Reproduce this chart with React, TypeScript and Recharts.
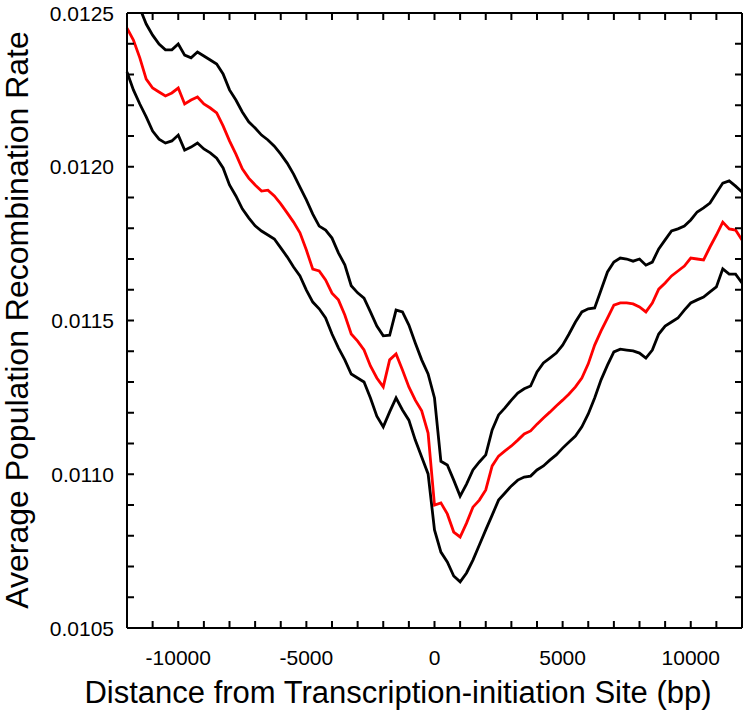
import { LineChart, Line, XAxis, YAxis, Label } from "recharts";

const positions = [
  -12000, -11750, -11500, -11250, -11000, -10750, -10500, -10250, -10000, -9750, -9500, -9250,
  -9000, -8750, -8500, -8250, -8000, -7750, -7500, -7250, -7000, -6750, -6500, -6250,
  -6000, -5750, -5500, -5250, -5000, -4750, -4500, -4250, -4000, -3750, -3500, -3250,
  -3000, -2750, -2500, -2250, -2000, -1750, -1500, -1250, -1000, -750, -500, -250,
  0, 250, 500, 750, 1000, 1250, 1500, 1750, 2000, 2250, 2500, 2750,
  3000, 3250, 3500, 3750, 4000, 4250, 4500, 4750, 5000, 5250, 5500, 5750,
  6000, 6250, 6500, 6750, 7000, 7250, 7500, 7750, 8000, 8250, 8500, 8750,
  9000, 9250, 9500, 9750, 10000, 10250, 10500, 10750, 11000, 11250, 11500, 11750, 12000,
];

// mean rate (red)
const meanRate = [
  0.012451, 0.012412, 0.012354, 0.012285, 0.012256, 0.012243, 0.01223, 0.01224, 0.012256, 0.012204, 0.012217, 0.012227,
  0.012204, 0.012191, 0.012175, 0.012133, 0.012084, 0.012041, 0.011993, 0.011963, 0.011941, 0.011921, 0.011924, 0.011905,
  0.011879, 0.01185, 0.01182, 0.011785, 0.011729, 0.011667, 0.011661, 0.011632, 0.011589, 0.011567, 0.011518, 0.011456,
  0.011433, 0.011404, 0.011352, 0.011313, 0.011284, 0.011372, 0.011391, 0.011339, 0.011284, 0.011241, 0.011206, 0.011134,
  0.0109, 0.010907, 0.010871, 0.010812, 0.010796, 0.010841, 0.010893, 0.010916, 0.010949, 0.011027, 0.011059, 0.011076,
  0.011092, 0.011111, 0.011131, 0.011141, 0.011163, 0.011183, 0.011202, 0.011222, 0.011241, 0.011261, 0.011284, 0.011313,
  0.011359, 0.01142, 0.011466, 0.011508, 0.01155, 0.011557, 0.011557, 0.011554, 0.011544, 0.011528, 0.011557, 0.011602,
  0.011622, 0.011645, 0.011661, 0.011677, 0.011703, 0.0117, 0.011697, 0.011739, 0.011778, 0.01182, 0.011798, 0.011794, 0.011762,
];

// upper bound (black)
const upperRate = [
  0.01258, 0.012542, 0.012516, 0.012464, 0.012428, 0.012399, 0.01238, 0.01238, 0.012399, 0.012363, 0.012354, 0.012373,
  0.01236, 0.012347, 0.012334, 0.012302, 0.01225, 0.012217, 0.012178, 0.012146, 0.012126, 0.012103, 0.012087, 0.012067,
  0.012041, 0.012012, 0.011976, 0.011934, 0.011892, 0.011846, 0.011807, 0.011794, 0.011768, 0.01172, 0.011681, 0.011613,
  0.01159, 0.011573, 0.011528, 0.011482, 0.01145, 0.011452, 0.011534, 0.011528, 0.011485, 0.011427, 0.011372, 0.011326,
  0.011248, 0.011042, 0.01103, 0.010981, 0.010929, 0.010968, 0.011014, 0.01104, 0.011063, 0.011144, 0.011193, 0.011216,
  0.011241, 0.011264, 0.011278, 0.011287, 0.011333, 0.011362, 0.011378, 0.011394, 0.01142, 0.011456, 0.011495, 0.011528,
  0.011538, 0.011541, 0.011599, 0.011658, 0.01169, 0.011703, 0.0117, 0.011693, 0.0117, 0.01168, 0.01169, 0.011733,
  0.011762, 0.011791, 0.011798, 0.011807, 0.011827, 0.011853, 0.011866, 0.011882, 0.011915, 0.011947, 0.011954, 0.011937, 0.011918,
];

// lower bound (black)
const lowerRate = [
  0.012308, 0.01225, 0.012204, 0.012162, 0.012116, 0.01209, 0.012077, 0.012084, 0.012103, 0.012054, 0.012064, 0.012077,
  0.012058, 0.012045, 0.012028, 0.011996, 0.011941, 0.011905, 0.011863, 0.011834, 0.011808, 0.011791, 0.011778, 0.011765,
  0.011736, 0.011707, 0.011674, 0.011645, 0.011599, 0.01156, 0.011538, 0.011508, 0.011456, 0.011411, 0.011372, 0.011326,
  0.011313, 0.0113, 0.011248, 0.011189, 0.011154, 0.011203, 0.011248, 0.011209, 0.011176, 0.011111, 0.011056, 0.011001,
  0.010819, 0.010747, 0.010715, 0.010669, 0.01065, 0.010679, 0.010721, 0.01077, 0.010819, 0.010867, 0.010916, 0.010939,
  0.010962, 0.010981, 0.010991, 0.010994, 0.011014, 0.011027, 0.011046, 0.011063, 0.011085, 0.011105, 0.011124, 0.011154,
  0.011196, 0.011248, 0.011307, 0.011355, 0.011398, 0.011407, 0.011404, 0.011401, 0.011394, 0.011378, 0.011404, 0.011456,
  0.011482, 0.011495, 0.011508, 0.011534, 0.011557, 0.011567, 0.011576, 0.011593, 0.011609, 0.011668, 0.011651, 0.011651, 0.011622,
];

const xTicks = [
  -12000, -11000, -10000, -9000, -8000, -7000, -6000, -5000, -4000, -3000, -2000, -1000,
  0, 1000, 2000, 3000, 4000, 5000, 6000, 7000, 8000, 9000, 10000, 11000, 12000,
];
const yTicks = [
  0.0105, 0.0106, 0.0107, 0.0108, 0.0109, 0.011, 0.0111, 0.0112, 0.0113, 0.0114, 0.0115,
  0.0116, 0.0117, 0.0118, 0.0119, 0.012, 0.0121, 0.0122, 0.0123, 0.0124, 0.0125,
];

const data = positions.map((bp, i) => ({
  bp,
  upper: upperRate[i],
  mean: meanRate[i],
  lower: lowerRate[i],
}));

const FONT = "'Liberation Sans', Arial, sans-serif";
const TICK_LEN = 7;
const TICK_W = 2;

const isMajorX = (v: number) => v % 5000 === 0 && Math.abs(v) < 12000;
const isMajorY = (v: number) => Math.round(v * 10000) % 5 === 0;

// inward tick marks drawn as small filled rects, labels only on the major values
function BottomTick(props: any) {
  const { x, y, payload } = props;
  const v = payload.value;
  return (
    <g>
      <rect x={x - TICK_W / 2} y={y - TICK_LEN} width={TICK_W} height={TICK_LEN} fill="#000" />
      {isMajorX(v) && (
        <text x={x} y={y + 37} textAnchor="middle" fontSize={21} fontFamily={FONT} fill="#000">
          {v}
        </text>
      )}
    </g>
  );
}

function TopTick(props: any) {
  const { x, y } = props;
  return <rect x={x - TICK_W / 2} y={y} width={TICK_W} height={TICK_LEN} fill="#000" />;
}

function LeftTick(props: any) {
  const { x, y, payload } = props;
  const v = payload.value;
  return (
    <g>
      <rect x={x} y={y - TICK_W / 2} width={TICK_LEN} height={TICK_W} fill="#000" />
      {isMajorY(v) && (
        <text x={x - 13} y={y + 7.5} textAnchor="end" fontSize={21} fontFamily={FONT} fill="#000">
          {v.toFixed(4)}
        </text>
      )}
    </g>
  );
}

function RightTick(props: any) {
  const { x, y } = props;
  return <rect x={x - TICK_LEN} y={y - TICK_W / 2} width={TICK_LEN} height={TICK_W} fill="#000" />;
}

const axisLine = { stroke: "#000", strokeWidth: 2 };

export default function App() {
  return (
    <div style={{ position: "absolute", left: 0, top: 0, background: "#fff" }}>
      <LineChart width={750} height={713} data={data} margin={{ top: 12, right: 0, bottom: 0, left: 0 }}>
        <XAxis
          dataKey="bp"
          type="number"
          domain={[-12000, 12000]}
          ticks={xTicks}
          interval={0}
          height={85}
          tickSize={0}
          tickMargin={0}
          tickLine={false}
          tick={<BottomTick />}
          axisLine={axisLine}
        >
          <Label
            content={() => (
              <text x={398} y={703} textAnchor="middle" fontSize={31} fontFamily={FONT} fill="#000">
                Distance from Transcription-initiation Site (bp)
              </text>
            )}
          />
        </XAxis>
        <XAxis
          xAxisId="top"
          orientation="top"
          dataKey="bp"
          type="number"
          domain={[-12000, 12000]}
          ticks={xTicks}
          interval={0}
          height={1}
          tickSize={0}
          tickMargin={0}
          tickLine={false}
          tick={<TopTick />}
          axisLine={axisLine}
        />
        <YAxis
          type="number"
          domain={[0.0105, 0.0125]}
          allowDataOverflow
          ticks={yTicks}
          interval={0}
          width={127}
          tickSize={0}
          tickMargin={0}
          tickLine={false}
          tick={<LeftTick />}
          axisLine={axisLine}
        >
          <Label
            content={() => (
              <text
                x={0}
                y={0}
                transform="translate(28, 320) rotate(-90)"
                textAnchor="middle"
                fontSize={32}
                fontFamily={FONT}
                fill="#000"
              >
                Average Population Recombination Rate
              </text>
            )}
          />
        </YAxis>
        <YAxis
          yAxisId="right"
          orientation="right"
          type="number"
          domain={[0.0105, 0.0125]}
          allowDataOverflow
          ticks={yTicks}
          interval={0}
          width={8}
          tickSize={0}
          tickMargin={0}
          tickLine={false}
          tick={<RightTick />}
          axisLine={axisLine}
        />
        <Line dataKey="upper" stroke="#000" strokeWidth={2.8} dot={false} isAnimationActive={false} />
        <Line dataKey="lower" stroke="#000" strokeWidth={2.8} dot={false} isAnimationActive={false} />
        <Line dataKey="mean" stroke="#ff0000" strokeWidth={2.8} dot={false} isAnimationActive={false} />
      </LineChart>
    </div>
  );
}
